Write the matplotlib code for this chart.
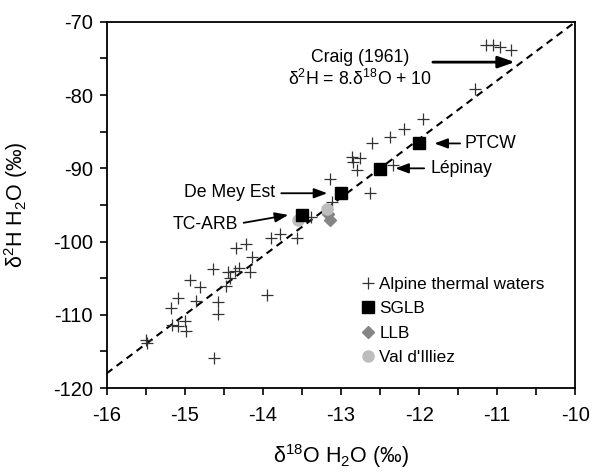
import matplotlib
matplotlib.use("Agg")
import matplotlib.pyplot as plt
import numpy as np

plt.rcParams['font.family'] = ['Liberation Sans', 'DejaVu Sans']
plt.rcParams['mathtext.default'] = 'regular'

# Alpine thermal waters (d18O, d2H)
alpine_x = [-11.14, -11.05, -10.96, -10.82, -11.28, -11.95, -12.2, -12.37, -12.6,
            -12.86, -12.76, -12.84, -12.8, -12.33, -13.14, -12.63, -13.12, -13.38,
            -13.56, -13.78, -13.89, -14.21, -14.34, -14.14, -14.64, -14.44, -14.36,
            -14.31, -14.16, -14.42, -14.93, -14.81, -14.47, -15.08, -14.86, -14.58,
            -15.17, -14.58, -15.16, -15.08, -15.0, -14.98, -15.5, -15.48, -14.63,
            -13.95]
alpine_y = [-73.2, -73.2, -73.4, -73.9, -79.1, -83.2, -84.6, -85.7, -86.6,
            -88.4, -88.6, -89.1, -90.2, -89.6, -91.4, -93.3, -94.6, -96.6,
            -99.5, -99.0, -99.5, -100.3, -100.9, -102.1, -103.7, -104.1, -104.0,
            -103.6, -104.1, -105.0, -105.2, -106.2, -106.0, -107.7, -108.1, -108.2,
            -109.1, -109.9, -111.4, -111.5, -110.9, -112.2, -113.4, -113.9, -115.9,
            -107.3]

# SGLB
sglb_names = ["PTCW", "Lépinay", "De Mey Est", "TC-ARB"]
sglb_x = [-12.0, -12.5, -13.0, -13.5]
sglb_y = [-86.5, -90.1, -93.4, -96.4]

# LLB
llb_x = [-13.14, -13.16]
llb_y = [-97.1, -96.3]

# Val d'Illiez
val_x = [-13.55, -13.18]
val_y = [-97.1, -95.5]

# Craig (1961) GMWL
gmwl_x = [-16, -10]

fig = plt.figure(figsize=(5.92, 4.75), dpi=100)
ax = fig.add_axes([0.180, 0.183, 0.792, 0.771])

ax.plot(gmwl_x, [8 * v + 10 for v in gmwl_x], color='black', lw=1.5,
        dashes=(3.5, 2.5), zorder=2)

ax.plot(alpine_x, alpine_y, ls='none', marker='+', ms=8, mew=0.9,
        color='#333333', label='Alpine thermal waters', zorder=3)
ax.plot(sglb_x, sglb_y, ls='none', marker='s', ms=8.5, color='black',
        label='SGLB', zorder=5)
ax.plot(llb_x, llb_y, ls='none', marker='D', ms=6, color='#858585',
        label='LLB', zorder=4)
ax.plot(val_x, val_y, ls='none', marker='o', ms=8, color='#bdbdbd',
        label="Val d'Illiez", zorder=4)

ax.set_xlim(-16, -10)
ax.set_ylim(-120, -70)
ax.set_xticks(np.arange(-16, -9.5, 1))
ax.set_xticks(np.arange(-16, -9.9, 0.5), minor=True)
ax.set_yticks(np.arange(-120, -69, 10))
ax.set_yticks(np.arange(-120, -69, 5), minor=True)
ax.set_xticklabels(['-16', '-15', '-14', '-13', '-12', '-11', '-10'])
ax.set_yticklabels(['-120', '-110', '-100', '-90', '-80', '-70'])
ax.tick_params(which='both', direction='out', length=5, width=1.2,
               labelsize=14.5, color='black')
ax.tick_params(axis='x', pad=8)
ax.tick_params(axis='y', pad=5)
for s in ax.spines.values():
    s.set_linewidth(1.3)

ax.set_xlabel('δ$^{18}$O H$_2$O (‰)', fontsize=15.5, labelpad=12)
ax.set_ylabel('δ$^{2}$H H$_2$O (‰)', fontsize=15.5, labelpad=16)

fs = 12.7
akw = dict(arrowstyle='-|>,head_length=0.8,head_width=0.3', color='black', lw=1.3)
# Craig arrow
ax.annotate('', xy=(-10.74, -75.5), xytext=(-11.86, -75.5),
            arrowprops=dict(arrowstyle='-|>,head_length=1.0,head_width=0.35',
                            color='black', lw=2))
ax.text(-12.76, -74.8, 'Craig (1961)', ha='center', va='center', fontsize=fs)
ax.text(-12.76, -77.8, 'δ$^{2}$H = 8.δ$^{18}$O + 10', ha='center', va='center',
        fontsize=fs)

# PTCW
ax.annotate('', xy=(-11.84, -86.6), xytext=(-11.44, -86.6), arrowprops=akw)
ax.text(-11.42, -86.6, 'PTCW', ha='left', va='center', fontsize=fs)
# Lepinay
ax.annotate('', xy=(-12.34, -90.0), xytext=(-11.9, -90.0), arrowprops=akw)
ax.text(-11.86, -90.0, 'Lépinay', ha='left', va='center', fontsize=fs)
# De Mey Est
ax.annotate('', xy=(-13.14, -93.4), xytext=(-13.8, -93.4), arrowprops=akw)
ax.text(-13.84, -93.3, 'De Mey Est', ha='right', va='center', fontsize=fs)
# TC-ARB
ax.annotate('', xy=(-13.64, -96.3), xytext=(-14.28, -97.5), arrowprops=akw)
ax.text(-14.32, -97.7, 'TC-ARB', ha='right', va='center', fontsize=fs)

ax.legend(loc='upper left', bbox_to_anchor=(0.545, 0.304), frameon=False,
          fontsize=12.3, handlelength=0.7, handletextpad=0.3, labelspacing=0.55,
          borderpad=0, borderaxespad=0, markerscale=1.0)

fig.savefig('out.png', dpi=100)
